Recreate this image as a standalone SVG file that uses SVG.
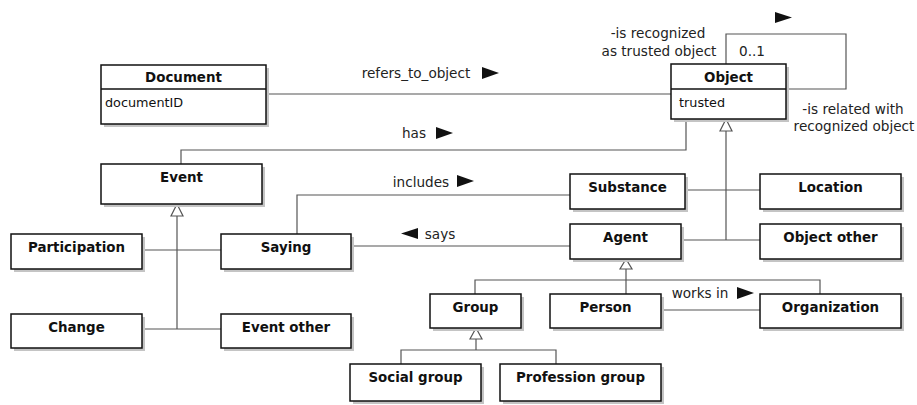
<svg xmlns="http://www.w3.org/2000/svg" width="917" height="405" viewBox="0 0 917 405">
<style>
.sh{fill:#c4c4c4}
.bx{fill:#fff;stroke:#111;stroke-width:1.5}
.t{font-family:"DejaVu Sans",Verdana,sans-serif;font-size:13.4px;font-weight:bold;fill:#111;text-anchor:middle}
.a{font-family:"DejaVu Sans",Verdana,sans-serif;font-size:12.8px;fill:#111}
.l{font-family:"DejaVu Sans",Verdana,sans-serif;font-size:13.6px;fill:#222;text-anchor:middle}
.c{fill:none;stroke:#555;stroke-width:1.2}
.g{fill:#fff;stroke:#555;stroke-width:1.2}
.ar{fill:#111}
</style>
<rect width="917" height="405" fill="#fff"/>
<g id="connectors">
<path class="c" d="M266,94H671"/>
<path class="c" d="M726,64V34H846V89H786"/>
<path class="c" d="M686,119V150H181V164"/>
<path class="c" d="M726,131V240M685,190H760M681,240H760"/>
<path class="c" d="M297,234V195H570"/>
<path class="c" d="M351,246H570"/>
<path class="c" d="M177,216V329M142,250H221M142,329H221"/>
<path class="c" d="M626,269V294M475,294V280H820V294"/>
<path class="c" d="M476,339V350M401,364V350H556V364"/>
<path class="c" d="M661,310H760"/>
<polygon class="g" points="726,119 720,131 732,131"/>
<polygon class="g" points="177,204 171,216 183,216"/>
<polygon class="g" points="626,259 620,269 632,269"/>
<polygon class="g" points="476,328 470,339 482,339"/>
<polygon class="ar" points="775,12 792,17.5 775,23"/>
<polygon class="ar" points="482,67 499,73 482,79"/>
<polygon class="ar" points="436,127 453,133 436,139"/>
<polygon class="ar" points="457,175 474,181 457,187"/>
<polygon class="ar" points="418,228 401,233.5 418,239"/>
<polygon class="ar" points="737,287 754,293 737,299"/>
<text class="l" x="416" y="78">refers_to_object</text>
<text class="l" x="414" y="138">has</text>
<text class="l" x="421" y="187">includes</text>
<text class="l" x="440" y="239">says</text>
<text class="l" x="700" y="298">works in</text>
<text class="l" x="658" y="38">-is recognized</text>
<text class="l" x="659" y="56">as trusted object</text>
<text class="l" x="752" y="56">0..1</text>
<text class="l" x="853" y="114">-is related with</text>
<text class="l" x="854" y="131">recognized object</text>
</g>
<g id="Document">
<rect class="sh" x="104" y="68" width="165" height="59"/>
<rect class="bx" x="101" y="65" width="165" height="59"/>
<path class="bx" d="M101,89H266"/>
<text class="t" x="183.5" y="82">Document</text>
<text class="a" x="105" y="107">documentID</text>
</g>
<g id="Object">
<rect class="sh" x="674" y="67" width="115" height="55"/>
<rect class="bx" x="671" y="64" width="115" height="55"/>
<path class="bx" d="M671,89H786"/>
<text class="t" x="728.5" y="82">Object</text>
<text class="a" x="679" y="107">trusted</text>
</g>
<g id="Event">
<rect class="sh" x="104" y="167" width="161" height="40"/>
<rect class="bx" x="101" y="164" width="161" height="40"/>
<text class="t" x="181.5" y="182">Event</text>
</g>
<g id="Substance">
<rect class="sh" x="573" y="177" width="115" height="35"/>
<rect class="bx" x="570" y="174" width="115" height="35"/>
<text class="t" x="627.5" y="192">Substance</text>
</g>
<g id="Location">
<rect class="sh" x="763" y="177" width="141" height="35"/>
<rect class="bx" x="760" y="174" width="141" height="35"/>
<text class="t" x="830.5" y="192">Location</text>
</g>
<g id="Agent">
<rect class="sh" x="573" y="227" width="111" height="35"/>
<rect class="bx" x="570" y="224" width="111" height="35"/>
<text class="t" x="625.5" y="242">Agent</text>
</g>
<g id="ObjectOther">
<rect class="sh" x="763" y="227" width="141" height="35"/>
<rect class="bx" x="760" y="224" width="141" height="35"/>
<text class="t" x="830.5" y="242">Object other</text>
</g>
<g id="Participation">
<rect class="sh" x="14" y="237" width="131" height="35"/>
<rect class="bx" x="11" y="234" width="131" height="35"/>
<text class="t" x="76.5" y="252">Participation</text>
</g>
<g id="Saying">
<rect class="sh" x="224" y="237" width="130" height="35"/>
<rect class="bx" x="221" y="234" width="130" height="35"/>
<text class="t" x="286" y="252">Saying</text>
</g>
<g id="Change">
<rect class="sh" x="14" y="317" width="131" height="34"/>
<rect class="bx" x="11" y="314" width="131" height="34"/>
<text class="t" x="76.5" y="332">Change</text>
</g>
<g id="EventOther">
<rect class="sh" x="224" y="317" width="130" height="34"/>
<rect class="bx" x="221" y="314" width="130" height="34"/>
<text class="t" x="286" y="332">Event other</text>
</g>
<g id="Group">
<rect class="sh" x="433" y="297" width="91" height="34"/>
<rect class="bx" x="430" y="294" width="91" height="34"/>
<text class="t" x="475.5" y="312">Group</text>
</g>
<g id="Person">
<rect class="sh" x="553" y="297" width="111" height="34"/>
<rect class="bx" x="550" y="294" width="111" height="34"/>
<text class="t" x="605.5" y="312">Person</text>
</g>
<g id="Organization">
<rect class="sh" x="763" y="297" width="141" height="34"/>
<rect class="bx" x="760" y="294" width="141" height="34"/>
<text class="t" x="830.5" y="312">Organization</text>
</g>
<g id="SocialGroup">
<rect class="sh" x="353" y="367" width="131" height="37"/>
<rect class="bx" x="350" y="364" width="131" height="37"/>
<text class="t" x="415.5" y="382">Social group</text>
</g>
<g id="ProfessionGroup">
<rect class="sh" x="503" y="367" width="161" height="37"/>
<rect class="bx" x="500" y="364" width="161" height="37"/>
<text class="t" x="580.5" y="382">Profession group</text>
</g>
</svg>
